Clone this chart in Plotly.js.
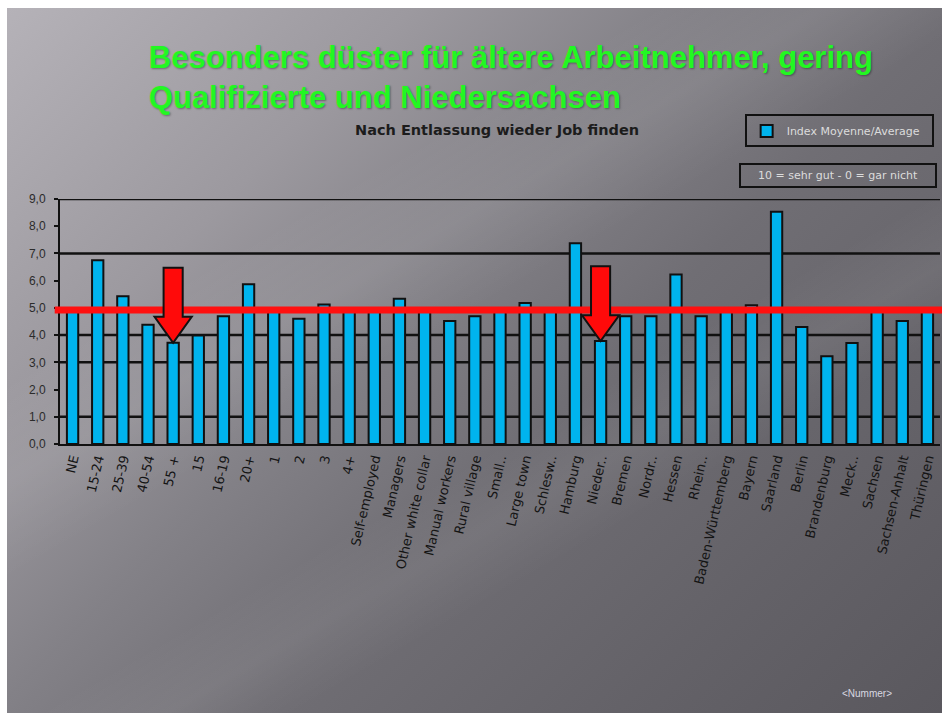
<!DOCTYPE html>
<html>
<head>
<meta charset="utf-8">
<script src="https://cdn.plot.ly/plotly-3.0.1.min.js"></script>
<style>
  html, body { margin: 0; padding: 0; background: #ffffff; width: 942px; height: 713px; overflow: hidden; }
  #bg {
    position: absolute; left: 7px; top: 8px; width: 935px; height: 705px;
    background:
      linear-gradient(150deg, rgba(255,255,255,0) 30%, rgba(255,255,255,0.07) 38%, rgba(255,255,255,0) 46%, rgba(255,255,255,0) 58%, rgba(255,255,255,0.06) 64%, rgba(255,255,255,0) 70%),
      linear-gradient(135deg, #b5b2b8 0%, #9c999f 25%, #838187 42%, #706e74 58%, #646268 80%, #5a585e 100%);
  }
  #chart { position: absolute; left: 0; top: 0; width: 942px; height: 713px; }
</style>
</head>
<body>
<div id="bg"></div>
<div id="chart"></div>
<script>
// ---- data ----
const categories = [
  "NE", "15-24", "25-39", "40-54", "55 +", "15", "16-19", "20+",
  "1", "2", "3", "4+",
  "Self-employed", "Managers", "Other white collar", "Manual workers",
  "Rural village", "Small..", "Large town",
  "Schlesw..", "Hamburg", "Nieder..", "Bremen", "Nordr..", "Hessen", "Rhein..",
  "Baden-Württemberg", "Bayern", "Saarland", "Berlin", "Brandenburg", "Meck..",
  "Sachsen", "Sachsen-Anhalt", "Thüringen"
];
const indexValues = [
  4.9, 6.75, 5.43, 4.38, 3.72, 3.99, 4.69, 5.87,
  4.9, 4.6, 5.12, 4.9,
  4.9, 5.34, 4.9, 4.52,
  4.69, 4.9, 5.18,
  4.9, 7.37, 3.78, 4.69, 4.69, 6.23, 4.69,
  4.9, 5.1, 8.53, 4.3, 3.22, 3.71,
  4.9, 4.52, 4.9
];
const seriesName = "Index Moyenne/Average";
const averageLine = 4.92;
const highlightedCategories = ["55 +", "Nieder.."];
const yTickValues = [0, 1, 2, 3, 4, 5, 6, 7, 8, 9];
const gridValues = [1, 3, 4, 7, 9];

// ---- shapes ----
const shapes = [];
gridValues.forEach(v => shapes.push({
  type: "line", xref: "paper", yref: "y", x0: 0, x1: 1, y0: v, y1: v,
  layer: "below", line: { color: "#111111", width: 2.5 }
}));
shapes.push({
  type: "line", xref: "paper", yref: "y", x0: -0.006, x1: 1.01, y0: averageLine, y1: averageLine,
  layer: "above", line: { color: "#ff1010", width: 7 }
});
// block arrows pointing at the highlighted bars (built from the bar index and value)
highlightedCategories.forEach(c => {
  const i = categories.indexOf(c);
  const v = indexValues[i];
  const bw = 0.38, hw = 0.74, headLen = 0.95, bodyLen = 1.8;
  const base = v + headLen, top = base + bodyLen;
  const p = `M ${i - bw},${top} L ${i + bw},${top} L ${i + bw},${base} L ${i + hw},${base} ` +
            `L ${i},${v} L ${i - hw},${base} L ${i - bw},${base} Z`;
  shapes.push({
    type: "path", xref: "x", yref: "y", path: p, layer: "above",
    fillcolor: "#ff0a0a", line: { color: "#111111", width: 2 }
  });
});

const trace = {
  type: "bar",
  x: categories,
  y: indexValues,
  name: seriesName,
  showlegend: true,
  marker: { color: "#00b4ee", line: { color: "#111111", width: 2 } }
};

const layout = {
  width: 942, height: 713,
  paper_bgcolor: "rgba(0,0,0,0)",
  plot_bgcolor: "rgba(0,0,0,0)",
  margin: { l: 60, r: 2, t: 199, b: 269, autoexpand: false },
  separators: ",.",
  bargap: 0.55,
  font: { family: "Liberation Sans, Arial, sans-serif", color: "#222" },
  title: {
    text: "Besonders düster für ältere Arbeitnehmer, gering<br>Qualifizierte und Niedersachsen",
    font: { family: "Liberation Sans, Arial, sans-serif", size: 31, weight: 700, color: "#22f722",
            shadow: "1px 1px 2px rgba(0,0,0,0.35)" },
    x: 0.158, xref: "container", xanchor: "left",
    y: 0.905, yref: "container", yanchor: "top"
  },
  xaxis: {
    type: "category",
    showline: true, linecolor: "#111111", linewidth: 2,
    ticks: "", showgrid: false, zeroline: false,
    tickangle: -77,
    tickfont: { family: "DejaVu Sans, sans-serif", size: 13, color: "#141414" }
  },
  yaxis: {
    range: [0, 9], tickvals: yTickValues, tickformat: ".1f",
    showline: true, linecolor: "#111111", linewidth: 2,
    ticks: "outside", ticklen: 4, tickcolor: "#111111", tickwidth: 2,
    ticklabelstandoff: 6,
    showgrid: false, zeroline: false,
    tickfont: { family: "Liberation Sans, Arial, sans-serif", size: 12, color: "#2b2b2b" }
  },
  legend: {
    orientation: "h",
    x: 0.778, y: 1.345, xanchor: "left", yanchor: "top",
    bgcolor: "rgba(0,0,0,0)", bordercolor: "#111111", borderwidth: 2,
    font: { family: "DejaVu Sans, sans-serif", size: 11, color: "#dcdcdc" },
    itemwidth: 30, entrywidth: 140, entrywidthmode: "pixels"
  },
  shapes: shapes,
  annotations: [
    {
      text: "<b>Nach Entlassung wieder Job finden</b>",
      xref: "paper", yref: "paper", x: 0.497, y: 1.28, xanchor: "center", yanchor: "middle",
      showarrow: false,
      font: { family: "DejaVu Sans, sans-serif", size: 14.5, color: "#1c1c1c" }
    },
    {
      text: "10 = sehr gut - 0 = gar nicht",
      xref: "paper", yref: "paper", x: 0.884, y: 1.095, xanchor: "center", yanchor: "middle",
      showarrow: false, width: 192, height: 19,
      bordercolor: "#111111", borderwidth: 2, borderpad: 1,
      font: { family: "DejaVu Sans, sans-serif", size: 11, color: "#dcdcdc" }
    },
    {
      text: "&lt;Nummer&gt;",
      xref: "paper", yref: "paper", x: 0.917, y: -1.02, xanchor: "center", yanchor: "middle",
      showarrow: false,
      font: { family: "Liberation Sans, Arial, sans-serif", size: 10, color: "#d8d8e0" }
    }
  ]
};

Plotly.newPlot("chart", [trace], layout, { displayModeBar: false, responsive: false });
</script>
</body>
</html>
